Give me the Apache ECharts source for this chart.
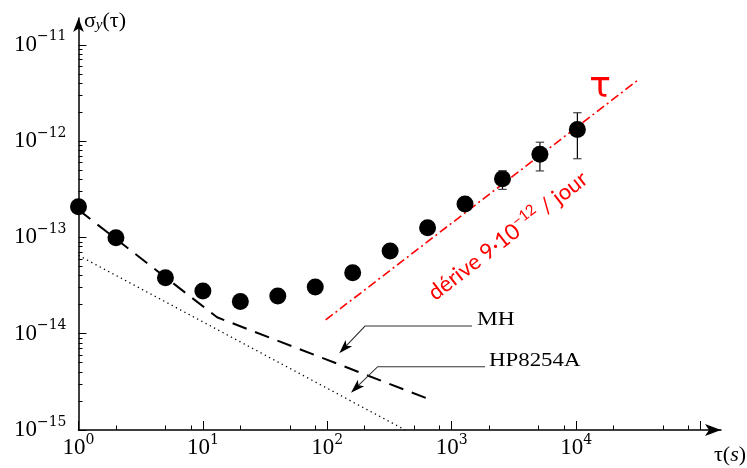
<!DOCTYPE html>
<html><head><meta charset="utf-8">
<script src="https://cdn.jsdelivr.net/npm/echarts@6/dist/echarts.min.js"></script>
<style>html,body{margin:0;padding:0;background:#fff}#c{width:747px;height:468px}</style>
</head><body><div id="c"></div>
<script>
// ---- data ----
const tau   = [1, 2, 5, 10, 20, 40, 80, 160, 320, 640, 1280, 2560, 5120, 10240];
const sigma = [2.08e-13, 0.99e-13, 3.82e-14, 2.77e-14, 2.16e-14, 2.46e-14, 3.05e-14,
               4.30e-14, 7.23e-14, 1.26e-13, 2.22e-13, 4.07e-13, 7.30e-13, 1.32e-12];
const errTau  = [2560, 5120, 10240];
const errLow  = [3.15e-13, 4.9e-13, 6.56e-13];
const errHigh = [4.93e-13, 9.73e-13, 1.97e-12];
const mhTau   = [1, 13, 670];
const mhSigma = [1.93e-13, 1.48e-14, 2.07e-15];
const hpTau   = [1, 423];
const hpSigma = [6.5e-14, 1.0e-15];
const driftTau   = [97, 32200];
const driftSigma = [1.39e-14, 4.4e-12];
const xMajorTicks = [1, 10, 100, 1000, 10000, 100000];
const xLabelTicks = [1, 10, 100, 1000, 10000];
const xMinorTicks = [2, 5, 8, 20, 50, 80, 200, 500, 800, 2000, 5000, 8000, 20000, 50000, 80000];
const yMajorTicks = [1e-15, 1e-14, 1e-13, 1e-12, 1e-11];
const yMinorTicks = [2e-15, 3e-15, 4e-15, 5e-15, 6e-15, 7e-15, 8e-15, 9e-15,
                     2e-14, 3e-14, 4e-14, 5e-14, 6e-14, 7e-14, 8e-14, 9e-14,
                     2e-13, 3e-13, 4e-13, 5e-13, 6e-13, 7e-13, 8e-13, 9e-13,
                     2e-12, 3e-12, 4e-12, 5e-12, 6e-12, 7e-12, 8e-12, 9e-12];
const labelMH = 'MH';
const labelHP = 'HP8254A';
const labelDrift = ['dérive 9·10', '−12', ' / jour'];
const labelTau = 'τ';

// ---- chart ----
const X_MIN = 1, X_MAX = 1.462e5, Y_MIN = 1e-15, Y_MAX = 1.897e-11;
const SERIF = 'Liberation Serif';
function expStr(v){ const n = Math.round(Math.log10(v)); return n < 0 ? '−' + (-n) : '' + n; }
const tickRich = {
  b: {fontFamily: SERIF, fontSize: 23, lineHeight: 30, color: '#000'},
  e: {fontFamily: 'DejaVu Serif', fontSize: 14, lineHeight: 17, verticalAlign: 'top', color: '#000'}
};
const chart = echarts.init(document.getElementById('c'), null, {renderer: 'canvas'});
function pairs(a, b){ return a.map((t, i) => [t, b[i]]); }

function arrow(points){
  const n = points.length, T = points[n-1], S = points[n-2];
  let dx = T[0]-S[0], dy = T[1]-S[1]; const L = Math.hypot(dx, dy); dx/=L; dy/=L;
  const len = 14, half = 4.6;
  const bx = T[0]-dx*len, by = T[1]-dy*len;
  return [
    {type:'polyline', shape:{points: points.slice(0,n-1).concat([[T[0]-dx*9, T[1]-dy*9]])}, style:{stroke:'#333', lineWidth:1.1, fill:null}, z:10},
    {type:'polygon', shape:{points:[T, [bx - dy*half, by + dx*half], [T[0]-dx*10.5, T[1]-dy*10.5], [bx + dy*half, by - dx*half]]}, style:{fill:'#000'}, z:10}
  ];
}

const option = {
  animation: false,
  backgroundColor: '#fff',
  grid: {left: 78.5, right: 26, top: 18, bottom: 38, outerBoundsMode: 'none', containLabel: false},
  xAxis: [
    {type:'log', logBase:10, min:X_MIN, max:X_MAX, position:'bottom',
     axisLine:{show:true, onZero:false, symbol:['none','arrow'], symbolSize:[9,16], lineStyle:{color:'#000', width:1.5}},
     axisTick:{show:true, inside:true, length:9, customValues:xMajorTicks, lineStyle:{color:'#000', width:1}},
     axisLabel:{show:true, customValues:xLabelTicks, margin:3, fontFamily:SERIF, formatter: v => '{b|10}{e|' + expStr(v) + '}', rich: tickRich},
     splitLine:{show:false}, minorTick:{show:false}},
    {type:'log', logBase:10, min:X_MIN, max:X_MAX, position:'bottom',
     axisLine:{show:false, onZero:false},
     axisTick:{show:true, inside:true, length:4.5, customValues:xMinorTicks, lineStyle:{color:'#000', width:1}},
     axisLabel:{show:false}, splitLine:{show:false}}
  ],
  yAxis: [
    {type:'log', logBase:10, min:Y_MIN, max:Y_MAX, position:'left',
     axisLine:{show:true, onZero:false, symbol:['none','arrow'], symbolSize:[8,14], lineStyle:{color:'#000', width:1.5}},
     axisTick:{show:true, inside:true, length:8, customValues:yMajorTicks, lineStyle:{color:'#000', width:1}},
     axisLabel:{show:true, customValues:yMajorTicks, margin:12, fontFamily:SERIF, formatter: v => '{b|10}{e|' + expStr(v) + '}', rich: tickRich},
     splitLine:{show:false}, minorTick:{show:false}},
    {type:'log', logBase:10, min:Y_MIN, max:Y_MAX, position:'left',
     axisLine:{show:false, onZero:false},
     axisTick:{show:true, inside:true, length:4, customValues:yMinorTicks, lineStyle:{color:'#000', width:1}},
     axisLabel:{show:false}, splitLine:{show:false}}
  ],
  series: [
    {type:'line', name:'HP8254A', data: pairs(hpTau, hpSigma), symbol:'none', silent:true, z:2,
     lineStyle:{color:'#000', width:1.3, type:[1.3,3.5]}},
    {type:'line', name:'MH', data: pairs(mhTau, mhSigma), symbol:'none', silent:true, z:2,
     lineStyle:{color:'#000', width:2, type:[15,9]}},
    {type:'line', name:'drift', data: pairs(driftTau, driftSigma), symbol:'none', silent:true, z:2,
     lineStyle:{color:'#ff0000', width:1.6, type:[9,3.5,2,3.5]}},
    {type:'scatter', name:'data', data: pairs(tau, sigma), symbol:'circle', symbolSize:17, clip:false, z:3,
     itemStyle:{color:'#000', opacity:1}},
    {type:'custom', name:'err', data: errTau.map((t,i)=>[t, errLow[i], errHigh[i]]), clip:false, z:4,
     encode:{x:0, y:[1,2]},
     renderItem: (params, api) => {
       const p1 = api.coord([api.value(0), api.value(1)]);
       const p2 = api.coord([api.value(0), api.value(2)]);
       const w = 4.2;
       return {type:'group', children:[
         {type:'line', shape:{x1:p1[0], y1:p1[1], x2:p2[0], y2:p2[1]}, style:{stroke:'#000', lineWidth:1.2}},
         {type:'line', shape:{x1:p1[0]-w, y1:p1[1], x2:p1[0]+w, y2:p1[1]}, style:{stroke:'#444', lineWidth:1.2}},
         {type:'line', shape:{x1:p2[0]-w, y1:p2[1], x2:p2[0]+w, y2:p2[1]}, style:{stroke:'#444', lineWidth:1.2}}
       ]};
     }}
  ],
  graphic: [
    {type:'text', x:84, y:21, z:10, style:{
      text:'{a|σ}{s|y}{a|(τ)}', textVerticalAlign:'middle', verticalAlign:'middle',
      rich:{a:{fontFamily:SERIF, fontSize:22, lineHeight:24, fill:'#000'},
            s:{fontFamily:SERIF, fontStyle:'italic', fontSize:15, lineHeight:15, verticalAlign:'bottom', fill:'#000'}}}},
    {type:'text', x:714, y:455, z:10, style:{
      text:'{a|τ(}{i|s}{a|)}', textVerticalAlign:'middle', verticalAlign:'middle',
      rich:{a:{fontFamily:SERIF, fontSize:22, fill:'#000'}, i:{fontFamily:SERIF, fontStyle:'italic', fontSize:22, fill:'#000'}}}},
    {type:'text', x:600, y:88, z:10, style:{text:labelTau, fontFamily:'DejaVu Sans', fontSize:36, fill:'#ff0000',
      textAlign:'center', align:'center', textVerticalAlign:'middle', verticalAlign:'middle'}},
    {type:'text', x:508, y:236, rotation: Math.atan2(96.3, 124.4), z:10, style:{
      text:'{t|' + labelDrift[0] + '}{e|' + labelDrift[1] + '}{t|' + labelDrift[2] + '}',
      textAlign:'center', align:'center', textVerticalAlign:'middle', verticalAlign:'middle',
      rich:{t:{fontFamily:'Lato', fontSize:22, lineHeight:28, fill:'#ff0000'},
            e:{fontFamily:'Lato', fontSize:15, lineHeight:15, verticalAlign:'top', fill:'#ff0000'}}}},
    {type:'text', x:477, y:320, scaleX:1.3, z:10, style:{text:labelMH, fontFamily:SERIF, fontSize:18, fill:'#000',
      textAlign:'left', align:'left', textVerticalAlign:'middle', verticalAlign:'middle'}},
    {type:'text', x:489, y:361, scaleX:1.27, z:10, style:{text:labelHP, fontFamily:SERIF, fontSize:18, fill:'#000',
      textAlign:'left', align:'left', textVerticalAlign:'middle', verticalAlign:'middle'}}
  ].concat(arrow([[472,326],[365,326],[339.3,353.3]]))
   .concat(arrow([[485,366.7],[377.7,366.7],[351,392.7]]))
};
chart.setOption(option);
</script>
</body></html>
